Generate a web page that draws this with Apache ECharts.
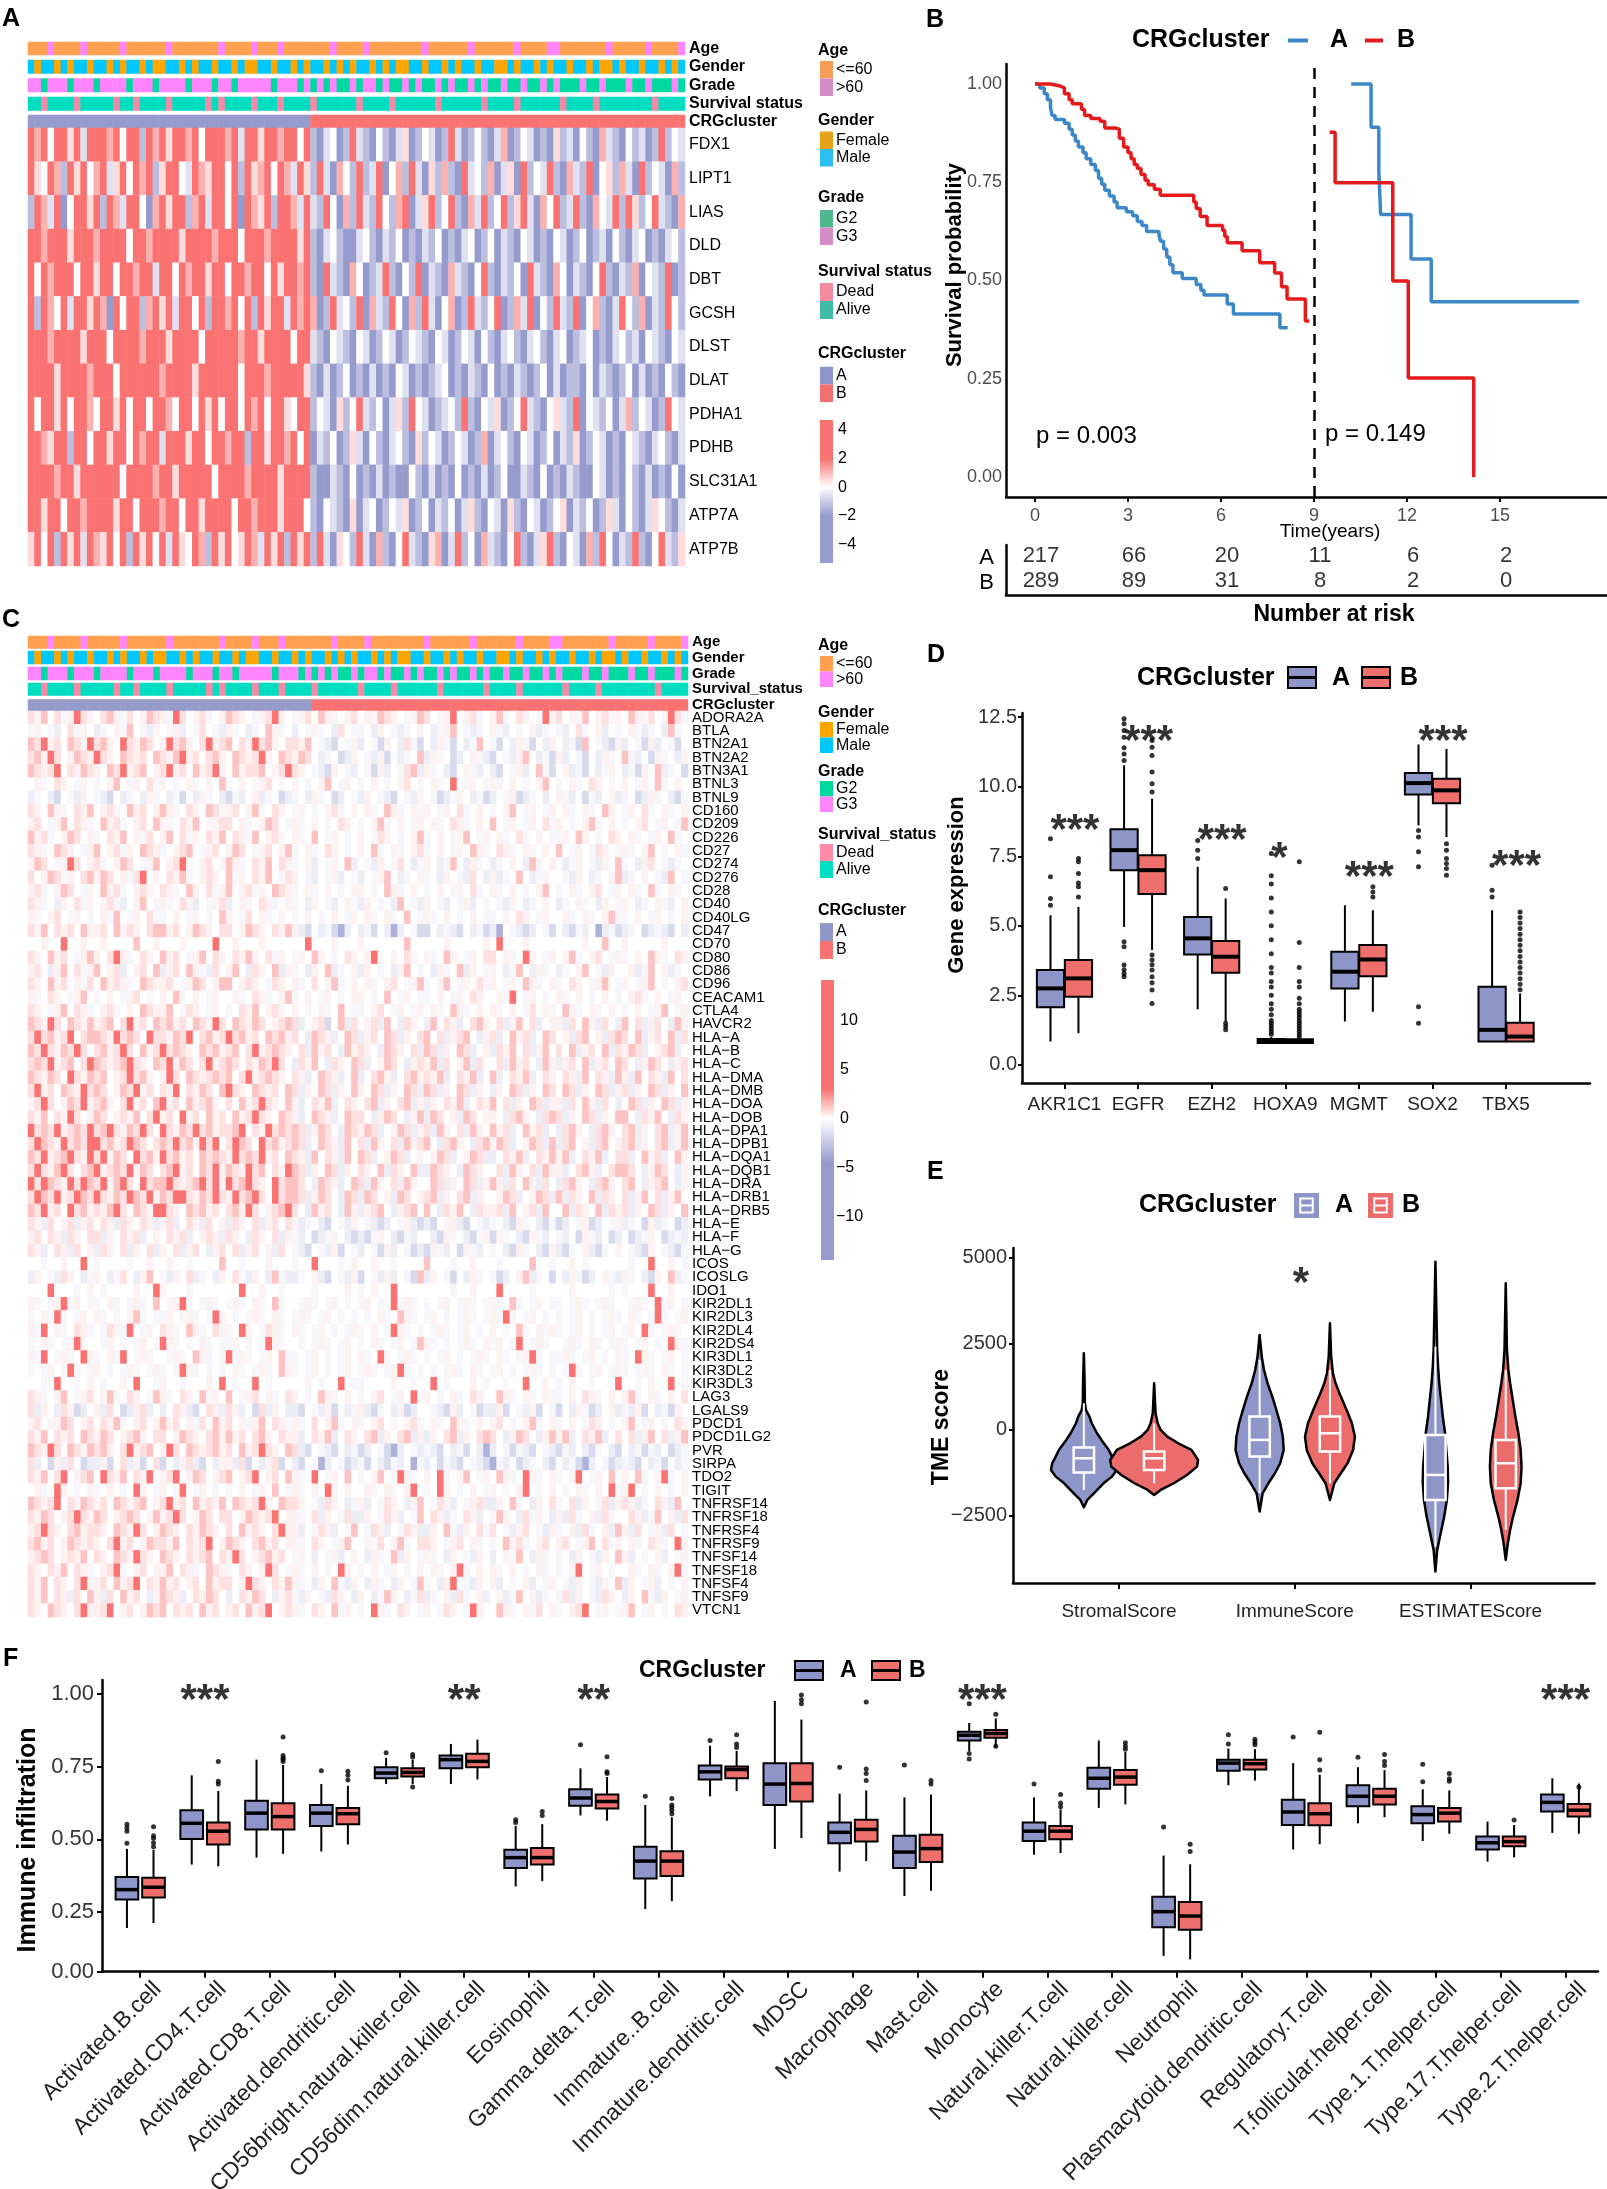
<!DOCTYPE html>
<html><head><meta charset="utf-8">
<script src="https://cdn.jsdelivr.net/npm/echarts/dist/echarts.min.js"></script>
<style>html,body{margin:0;padding:0;background:#fff}#c{width:1607px;height:2189px}</style>
</head><body><div id="c"></div>
<script>
// ===================== DATA =====================
const clusterSizes = [217, 289];          // CRGcluster A, B sample counts
const nCols = 100;                         // sample columns drawn (binned)
// annotation tracks (0/1 codes per column)
const annAge    = "0001000010 0000100000 0100000001 0000100010 0000001000 0100000000 1000000100 0000100001 1000000010 0000100001"; // 0:<=60 1:>60
const annGender = "1011010110 1101011010 0110101101 1010011011 0101101010 1101010011 0110101101 1001011010 1101101001 0110110101"; // 0:Female 1:Male
const annGrade  = "1101110111 0111101110 1111011101 1011111011 1010101001 0110100101 0010100101 0010010010 1000100100 0100100010"; // 0:G2 1:G3
const annSurv   = "1101111011 1110110111 1011111010 1111011101 1110111111 0111101111 1101111110 1111011111 1011110111 1111101111"; // 0:Dead 1:Alive

// Panel A heatmap: level codes per column (cluster A | cluster B)
const genesA = ['FDX1','LIPT1','LIAS','DLD','DBT','GCSH','DLST','DLAT','PDHA1','PDHB','SLC31A1','ATP7A','ATP7B'];
const levelA = {R:3, r:1.1, p:0.5, w:0, l:-0.6, b:-1.3, B:-3};
const heatA = [
"RrRwRRpRlR RRrRwRRbRr RpRRrRwRRR rRlRRpRRrR RwR|bBlwBbRlbB wbBlpBbwlB bRlBbwbBlr BbwlBbBpbl BwbBrlbBwb lBbRbwl",
"RpwRrbRpRw rRlpRwRrRb pRRwlRrpRR wRbRprRwRr lRp|bRlBrwbRbl RBwrbRlBpb rbBRlwbrBl pBRbwlRbBr lbRBwpbrlB RbwlBrb",
"bRrlRBwRRp RbRrlRRwBr RpRRbrRlRR wRBRrpRbRR rlR|lbRwBrbRlb RwbrRBlpRb wRbBrlRbwR bpRlBrwRbl RbBrwlRbRp bwRlbBr",
"RRrRRRpRRR rRRRRwRRrR RRRpRRRRrR RRwRRRrRRR RpR|bBlwbBBlwb BlbwBbBlbw BbBlwBbwBl bBwlBbBwlB bwBblBwbBl wBbBlwb",
"RwRrRRRwRR pRRwRRrRRl RRwRrRRpRR wRRrRRwRpR RrR|bBRlbBrwBb lRbBwbRBlb BrlbBwRbBl bwBRlbBrwB lbBwRbBlbr BwlbRBb",
"RbRrwRlRRp RrBRwRRbrR pRlRRwRbRR rRwRbRpRRl RrR|rBbRlwbRBr lbRwBrbRlB wrBbRlbwRB brlRBwbRlb RBwrbBlRwb rBlbRwb",
"RRRrRRRRpR RRwRRRRrRR RpRRRRwRRR RRrRRpRRRR wRR|lbBwlbBwlB bwlBbwlbBw lBbwlBwbBl wbBlwbBlwB blwBbBlwbl BwlbBwl",
"RRRRpRRRRr RRRwRRRRRR rRRRRpRRRR RRwRRRrRRR RRp|bBlBbwBbBl BbBwlBbBbl wBbBlbBwBb BlbBbwBlBb bBwBlbBbwB lBbBwbB",
"RwRRpRwRRr wRRpRwRRwR RrwRRwRpRw RRwRrRwRRp wRR|bwlBpbwRlb wBlpbRwlBb lwbRbBwlpB bwRlbBwplb RBwlbwBlrb wlBbRwl",
"RRrpRRbRRw RRpRRwRrRR lRRRpRRwRR rRRbRRpRRr RwR|BlbwBbplBw bBlwbBpbwl BbwlBbrBlw bBwlBbwBlb pBbwlBbBwl bBlwbBl",
"RRRRrRRpRR RRRRwRRRRr RRpRRRRRwR RRRrRRRRpR RRR|bBBlbBwBbB lBbBBwbBlB bBwBbBlBbw BBlbBwBbBl bBBwlBbBwb BlBbBwB",
"RRpRRwRRrR RRRpRRwRRR rRRwRRpRRR RwRRrRRRpR RRw|bBwlbBpBlw BbwlpBbwBl bwBlpbBwlB pbBwlBbwpB lbwBbplBwb BlpwbBl",
"pRwRbRpRlR rpRwRbRpRw RlRpwRrbRp RwpRrlRpRb RpR|bRlBpwbRlB rbBwRlbBpr BlRbwBrlbB wRbBlpRbBw lBrbRwBlbR bBwRlbp"
];

// Panel C heatmap (immune checkpoint genes)
const genesC = ['ADORA2A','BTLA','BTN2A1','BTN2A2','BTN3A1','BTNL3','BTNL9','CD160','CD209','CD226','CD27','CD274','CD276','CD28','CD40','CD40LG','CD47','CD70','CD80','CD86','CD96','CEACAM1','CTLA4','HAVCR2','HLA−A','HLA−B','HLA−C','HLA−DMA','HLA−DMB','HLA−DOA','HLA−DOB','HLA−DPA1','HLA−DPB1','HLA−DQA1','HLA−DQB1','HLA−DRA','HLA−DRB1','HLA−DRB5','HLA−E','HLA−F','HLA−G','ICOS','ICOSLG','IDO1','KIR2DL1','KIR2DL3','KIR2DL4','KIR2DS4','KIR3DL1','KIR3DL2','KIR3DL3','LAG3','LGALS9','PDCD1','PDCD1LG2','PVR','SIRPA','TDO2','TIGIT','TNFRSF14','TNFRSF18','TNFRSF4','TNFRSF9','TNFSF14','TNFSF18','TNFSF4','TNFSF9','VTCN1'];
const levelC = {R:3.2, r:1.3, p:0.65, q:0.3, w:0, o:-0.35, l:-0.8, b:-1.7, B:-3.5};
const heatC = [
"pqrwpoqRpq wprqopwqrp qoRpwqpowq rpqwoqpRqw oqpwrqowqp wqorpqwoqr pwoqRwqpow qrowpqwoRq pwqorwqpoq wrqopwqRpo",
"oqwolwpoqw lowqorwolq woqlwopwol qowlowrqow lwoqowlpwo owlqwolowq wloqrwolow qolwowqlow olwpowqlwo wqolowlrow",
"rpRqpwrpqR prqwRpqrpw qRprqwpRqp rwpqRprqwp pqrwolbwoq lwobqwlpob wlqobwlorw obwlqobwlq wlobrwolbq lwobqlwobw",
"prqRpwqrpq Rpqwrpqpwr pqrRqpwprq wrpqpRqwrp qrpwlowblq wolqbwlowr lqowblwqol bwolqrwlob qlwobwlqow rolwbqowlq",
"rpqpRwpqrp qwrpRqprwq pRqpwrqpRq wrqpprwqpR pqwolbqwol wobqlwoprl qowlbwqolw lbwoqlwrob wqlobwloqw lobqwrlowb",
"wqowpqwoqw owqrwoqwpo qwowqowqwr owqwoqpwow qwowqrwoqw owqwowqpwo wqowRwoqwo qowqwowqrw owqowpqwow qwoqwrowqw",
"lowlbwolqw olbwlowlqo wlobwlqowl bolwqlowbl owlqowblwo lqwolbwolq wobloqwlob lwoqblowlw qolwbolwql owblqowlbo",
"pqwrqowpqr wqpowrqpwq rqowpqwrpo qpwqrowpqw oqwowqpowq wqowrqowqo qwoqwpowqw owqrwoqwoq wqowqowrqw oqwpowqowq",
"qpwoqrwpqo wrqpowqpwr qowpqrwoqp pwqowqrpwo qowqwowpqw owqrowqwoq wqowpqowqw rwoqwoqwpo qwowqrowqw owqpwoqwor",
"rqpowqrpwq owpqrwqopw qrwpoqwpqr wpqorwqpow qowrwoqwow qwopqwowqr owqwoqrwoq wqowpowqwo oqwrqwowpq wqowoqwrow",
"pqowrpqwoq rwqpoqwrpq owqprwoqpw qrpwoqpwqr owqowpqwow qwrowqowqp owqwoqwrqo wpqowqowqw rwoqwopqwo qowqrwowqo",
"qrpwoqRpwq powqrpwoqr wqpRowqpwo rqowpqrwpq owqlwoqwrl wolqwopwlo qwlorwlqow lowqwlrowq wloqwolqwr owlqpwolow",
"pwqrpoqwpr qrpwqopRwq wpqrowqpqw roqwpqrwop qwolwoqlwo lwoqrwlowq owlqwolpwl qlowrwloqw wolqwlowqr lowqwolrwo",
"qpowqrpwoq wrqpowqpqw pqowrqwpoq rwqpoqwrpq owqowqwowq qwowrqowqw owqwoqwpow qowqwowqrw owqowqpwoq wqowrowqow",
"pqowlqwpoq wqpolwqrwo qowpqlwoqp lwqowpqowq owlqwolwqo lqwowlrwol qwolwoqlwo wolqwlowqw lowqowlqwo qwlowqolwq",
"qowqpwoqwo wqorwoqwpo owqwoqwowr qwopwqowqw owqwowqwoq wqowqowrwo qowqwowqwo owqwpqwoqw wqowqowqro owqwoqwowq",
"pqrwpqpwrq qpwrqpqwpr rqpwqrpqwp pwqrpqwpqr qlbwlobBlw lobwlBlwob bwlolbwlob lBwolblwob wlbolwBlob lowblolbwl",
"wwqwwRwwqw wqwwwwrwwq wwwqwwwwRw wqwwwqwwww wwRwwwqwww qwwwwwwrww wwwqwwwwwq wRwwwqwwww wwwwqwwrww qwwwwwqwww",
"pqwrqpwoqr qwpRqowpqw rqpwoqrwpq wpqrqwpoqw oqwrqwowpq wqRowqwpow qowrqwoqwp pwqowRqwoq wqrowqpwoq owqwrqowpq",
"qpwlqrwpoq rwqplwqpwr lqpwrqolpw qrwlpqwrlq owlqwrlowq lqwowlqrwo wlqowrlqwo qwlorwlqow lowqrwolqw wqlorwqlow",
"pqwrqpwqop wrqpqowrpq qpwoqrpwqr rwqpqwopqw qowpwqrowq wqowqpwoqr owqrwoqwpo qwoqwrqowq owpqwoqrwo qwoqrwowqp",
"qowpqwoqrw owqwoqpwow qwrowqwoqw wqowpqowqr owqwoqwowq qwowrwoqwo owqwoqwpqw wqoRwoqwow qowqwowqwo wqpowqwoqw",
"pqwoqrwpqo wqpowqwrpq qrwopqwoqw owpqrwqpow qwowqowrwo owqpwoqwoq wqowrqowqw qowqwopwqo wrqowqowqw owqwoqrwoq",
"rpqRpwrpqr qprwpRqpwr prqpwrpqRp wrpqrpwqpr plwqpbwrlp wqplrwlpqw lrwpqlwprq wplqrwplwq qlpwrqlpwl rwplqpwlrq",
"pRprqpRwpr rpqRprpwRp pqrpRwprqp Rprqpwrprq pwlrpqlwrp lqpwrplqwp rwplqprwlq plwrqplwrp wqlprwqlpr pwrlqpwrlp",
"rpRpqrpRpw prqpRpwrqp Rprpqwrprq prwpRqprpq wplrqpwlrq pqwlrpqwpl rplqwrplwq lpqrwplqrw pwrlqpwrlp qrplwqprlw",
"prpRqprwpR rpqprRpqwr pRqrpwpRqp rpwpqrpRpw lpqrwlpqwr plwqrpwlqp qrlpwqrlpw wplrqpwlrq lqpwrlqpwr pwlqrpwlqp",
"rpqrpwRpqr prwqpRprqw qRpwrpqprp rwpRqprpqw pqlwrpqlwr lwprqlwprq pqrlwpqrlw rlwpqrlwpq wpqlrwpqlr qlrwpqlrwp",
"pRqpwrpqRp rpwqrpRqpw pqRwpqrpwr Rpqwrpqpwr plqwrplqwr qwrplqwrpl rplqwrplqw lqwrplqwrp wrplqwrplq plqwrplqwr",
"qpRpwqrpRq prqwpRqpwr Rqpwrqprqw pwrqpRpqwr qlwpqrlwpq wprlqwprlq lqwpqrlwpq rwplqwrplq qlpwrqlpwl wrplqwrplq",
"pqrwpqRpwq rpwqpqrwpR qpwRqpwrqp wrqpRpqwrp qlwrpqlwrp pwlqrpwlqr lrpwqlrpwq qwlprqwlpr plqwrplqwr rwlpqrwlpq",
"RprpRqprpR prRpqrpRpw RpqrpRprqp prRwpqRprp rplqrpwlrp qrplwqrplq plrqwplrqw rqplwrqplw lprqwlprqw prlqwprlqr",
"pRrpqRprpR RprqpRrpwp rpRprqRpRw pRrpwRprqp rplwrpqlrw plrqwplrqp rwlprqwlpr qrplwqrplr lprwqlprwq prlqwprlqr",
"rpRqprRpqR pRqrpwRprq Rprqpwrprp qRprpRqpwr pqlrwpqlrw rplwqrplwq wqrplwqrpl lwpqrlwpqr qrlwpqrlwp plwrqplwrq",
"pRpqrRpwpr RqprpRqrpw prRqpwrpRq rpqRprwpqR rplqwrplqw pqwrlpqwrl lrpqwlrpqw wplrqwplrq qlwprqlwpr rpwlqrpwlq",
"RpRrpqRpRr pRqrRpwRpr rRpqprRpRq RprRpqwRpr rpwlrpqlwr plrqwplrqw wrplqwrplq rqlpwrqlpw lprqwlprqw prwlqprwlq",
"pRrpRqpRrp RpqrpRrpRq rpRRpqrpRp qRprRpwRpr rplqrpwlrp lrpwqlrpwq prlqwprlqw wqrplwqrpl rlpqwrlpqw plqrwplqrw",
"rpRqpwRprq pqrRpwrpqR Rpqwrprqpw prqRpwqprR pwlrqpwlrq lqprwlqprw rwlpqrwlpq qplrwqplrw wrlpqwrlpq plqwrplqwr",
"pqlpwqplqp wpqlpqwpql qplwpqlpwq lpqwplqpwp qlowlbwolq wolblwoqlb lbwoqlbwol owlbqowlbo blwoqblwoq lowbqlowbl",
"qpwpqlpqwp plqwpqplwq wpqplwqpql pqwlpqwplq olwbloqwlb lboqwlbolw wlbqowlboq bqowlbqolw olwbqolwbl wbloqwblol",
"pqlwpqlpwq lpqwplqwpl qwplqpwlqp wplqpwqlpw olbwolqbwo lwobqlwobl bqolwbqolw owlbqowlbq lbowqlbowq wolbqwolbo",
"wwowwqwwRw owwwwowwqw wqwwowwwwr wwowwwqwww owwRwwwowq wwqwwowwww rwwwowwqww wowwwwrwwo wwqwowwwww wowwRwwqwo",
"lqwolpqwlo qwlopwlqrw olqwplowlq wpolqwlrol lowqlbwolq bwolqlwobr lqwobwlqow oblwqrlowb wlqoblwqol qowlbqwrlo",
"wwwRwwwowq wowwwwqwwR qwwwowwwww wwRwwqwwow wwwowwwwqw owqwwRwwww wwwwowwqww wRwwwwowww wwqwwwwwow owwwRwwqww",
"qowoqRoqwo owqowoqowr woqRowoqow oqowqowrow woqowoqwow oqwowRoqow owoqwoqowo qowrowoqwo owoqowoqow woqowRoqwo",
"owqoRowoqw qowowqrowo oqwoqowoRq wowoqowqow oqowoqwowo wowqowrqow oqwowoqowo qoRowoqwow owoqwowoqo wqowoRowoq",
"qoRwqowpqo wopqoRwoqw pqowrqowpq owRqwopqow qowoqwowoq owqwoRqowo woqowoqwow qwowrowqoq owoqwowoqw oqwRowoqow",
"owqowoqRow woqwowoqwo Rqowowqowo oqwowoRqow wowoqowoqw owqowoqwor qowowoqowq oqwoRwoqow woqowqowoq owoqwowRqo",
"qoRwoqowRq owqoRwoqow woqowrqowo Roqowoqwro owoqwowoqw qowRowoqow owoqwowoqo wqowoqRowo oqowoqwowq owRqowoqwo",
"owoqwoRowo qwowoqowoq owoRqowowo wqowoqowrq owoqwowoqw oqowoqRowo wowoqowqow oqwowoqowo woRowoqwoq owoqowqowo",
"wwowRwwowq wowwqwRwwo qwwowwwqwR wowwRwowww wwqwowwRwo owwwwqwwow wRwowwwqwo wwowwRwwqw owqwwowwwR wwowqwwRwo",
"pqowqrwoqp wqrowpqwor qowpqwroqw rwoqpwqowp qwowrqowqw owqpwoqwRo qwowqowpqw wrqowqowqo owqwpqowqw qrowqowqwp",
"plqwlpqblw qlpwblqplw lwpqlbwpql pqlwbplqwl lbwolqbwlo qlbowlqblw wolbqlwobl lqbwolqbwo bwlqoblwql olqbwlobqw",
"qpwoqrpwqp wpqrowqpwq rqpwqopwrq pwqoqrwpqo qowpwqrowq owqpwowqpo wqowrqowqw qpwowqrowq owqwopqwow qrwoqwowpq",
"pqrwpqpwrp qrpwqprqwp pwqrpqwprq rqpwprqwpq qlwpqrlwpq wprlqwprlq lqwprlqwpr pwlqrpwlqr qrlwpqrlwp wplqrwplqr",
"rpqRpwrpqr prqwpRqprw qRpwrpqprq pwrqpRpqwr plbwolbwlo blwobBlwol olbwlobwlB lwobolbwol bolwlbowlb wlobolwblo",
"plwbqlpwbl lqbwplqbwp bwlqplbwlq qlpbwlqpbw lbwoBlwobl obwlbolwBo lwbolbwolb Bolwblowlb wlobBlwobl olbwlobwlo",
"pqrwpRwqpr wRpqrwpqRw qpRwqrpwqp rwqpRwqpwr qowRwoqwrw owqrwoRqow qwRowqrwoq wrqowRqowq owqRwoqwrw qwrowqRowq",
"wqowRqwowq owqwowRqwo qwoRwoqwow owqwoqwrwo qowqwRowqw wqowqowqRw owRqwowqwo qwowqRwowq wowqowqwRo qRwowqwowq",
"rpqpRwpqrp qpwrpqprwq pRqpwrqpqr wrpqpRqwrp pqwolpqwlo qlwopqwlqr wopqlwoqpl lqwrowlqwp owplqwoplq pqlowpqlrw",
"pqrpwqpRpq rpwqprpwqr qpRpwqrpwp pwqrpqpRwq qowplqwopl lqwopqlwor wpqlowpqlw orqwlpoqwl qlpowqlpow wpqlorwqlp",
"qpRpqwprqp pqwrpqRpwq rpqwpqrpqw pwrqpqwpRq qlwopqlwor wopqlwopql lqwrolqwpo pwolqpwolq owqlpowqlr qlpwoqlpwo",
"prqpwqrpqp qwpRqpwqrp pqrwpqpRwq rpqwprqpwq qowpqwoqrw wqopwqrowp pqwoqpwqow owrqpowqpw qpwoqrwpoq wqowpqowRq",
"qprpwqpqrw pqwrpqRpqw rpqwpqprwp qRpwqprqpw oqwlwoqlwq wlqowrlqwo qowlqwolqw lwqorwlqow owlqwolqwr qlwowqlwoq",
"pqwpqrwpqo wqpRowqpwq qrwpqowrpq owpqwqRpwo qowqwowRqw owqwoqwowq wqowqRowqw qowqwowqow owqRwoqwow wqowqowqRo",
"pqrwpqwpRq qpwrqpRwpq rqpwqpwrqp pwqRpqwpqr qowlqwrolq wlqowlqwor owlqRwolqw qlwowqlwoq wolqwolqwr lqwoqlwowq",
"pqrwpqlpwr qlpwrqpwlq rpqlwpqrpw lwpqrpwlqp olqwolpqwl qwlorqwlop lowqlpowql wqlorwqlow oplqwolpqw lqwrolqwoq",
"pqwrpqwpRq qpRwqpwqrp rwpqpwrqpw qpwrqpRwqp qowpqwroqw owRqowpqwo qwopqwoRqw wrqowqopwq owqpRwoqwo qrwoqwowpq"
];

// Panel B: Kaplan–Meier steps [time (years), survival]
const kmA1 = [[0,1],[0.15,0.99],[0.3,0.975],[0.4,0.96],[0.5,0.94],[0.55,0.92],[0.65,0.91],[0.95,0.9],[1.1,0.885],[1.2,0.87],[1.3,0.855],[1.4,0.84],[1.55,0.825],[1.65,0.81],[1.8,0.795],[1.95,0.78],[2.05,0.76],[2.15,0.745],[2.25,0.73],[2.4,0.715],[2.55,0.7],[2.65,0.685],[2.95,0.675],[3.15,0.665],[3.3,0.65],[3.45,0.64],[3.6,0.625],[4.0,0.615],[4.05,0.6],[4.15,0.58],[4.25,0.56],[4.35,0.54],[4.45,0.52],[4.75,0.505],[5.2,0.49],[5.35,0.475],[5.45,0.463],[6.2,0.44],[6.4,0.415],[7.9,0.38],[8.15,0.38]];
const kmB1 = [[0,1],[0.5,0.995],[0.8,0.99],[0.95,0.975],[1.1,0.96],[1.2,0.95],[1.5,0.935],[1.6,0.92],[1.8,0.912],[2.1,0.905],[2.25,0.888],[2.6,0.885],[2.72,0.862],[2.86,0.84],[3.0,0.825],[3.1,0.81],[3.2,0.795],[3.3,0.785],[3.42,0.77],[3.55,0.755],[3.65,0.744],[3.85,0.732],[4.04,0.717],[5.12,0.7],[5.2,0.683],[5.33,0.663],[5.55,0.64],[6.05,0.628],[6.12,0.612],[6.2,0.596],[6.68,0.576],[7.25,0.545],[7.73,0.519],[7.95,0.484],[8.13,0.453],[8.72,0.397],[8.85,0.397]];
const kmA2 = [[10.2,1],[10.84,0.89],[11.09,0.775],[11.15,0.668],[12.13,0.555],[12.78,0.446],[17.54,0.446]];
const kmB2 = [[9.5,0.877],[9.68,0.749],[11.54,0.499],[12.04,0.252],[14.15,0]];
const riskTimes = [0,3,6,9,12,15];
const riskA = [217,66,20,11,6,2];
const riskB = [289,89,31,8,2,0];
const pLeft = 'p = 0.003', pRight = 'p = 0.149';

// Panel D: [lowWhisker, Q1, median, Q3, highWhisker]
const dGenes = ['AKR1C1','EGFR','EZH2','HOXA9','MGMT','SOX2','TBX5'];
const dBoxA = [[0.84,2.07,2.75,3.41,5.38],[4.96,7.0,7.72,8.47,10.77],[2.0,3.97,4.55,5.32,7.12],[0.76,0.79,0.86,0.93,1.0],[1.56,2.75,3.35,4.07,5.74],[8.61,9.72,10.13,10.49,11.52],[0.84,0.84,1.26,2.81,5.56]];
const dBoxB = [[1.14,2.45,3.11,3.77,5.68],[4.13,6.14,7.0,7.54,9.57],[1.56,3.31,3.89,4.45,5.98],[0.76,0.79,0.85,0.92,0.98],[1.91,3.19,3.79,4.31,5.56],[8.19,9.41,9.87,10.29,11.36],[0.84,0.84,1.02,1.52,2.57]];
const dOutA = [[5.74,5.98,6.76,8.13],[4.43,4.25,3.59,3.42,3.29,3.17,10.94,11.18,11.4,11.78,12.02,12.26,12.44,12.68,12.86],[7.42,7.72,8.07],[1.1,1.2,1.3,1.4,1.5,1.6,1.8,2.0,2.2,2.5,2.8,3.0,3.3,3.5,4.0,4.5,5.0,5.5,6.0,6.5,6.8,7.6],[],[8.43,8.19,7.66,7.12,2.09,1.5],[6.04,6.28,7.18]];
const dOutB = [[6.04,6.4,6.54,6.88,7.3,7.42],[3.95,3.77,3.6,3.41,3.17,2.95,2.69,2.21,9.81,10.11,10.53,11.12,11.42,11.66],[6.34,1.5,1.38,1.26],[1.0,1.1,1.2,1.3,1.4,1.5,1.6,1.7,1.8,1.9,2.0,2.2,2.4,2.8,3.0,3.5,4.4,7.3],[6.04,6.22,6.4],[7.95,7.72,7.42,7.24,7.06,6.82],[2.7,2.9,3.1,3.3,3.5,3.7,3.9,4.1,4.3,4.5,4.7,4.9,5.1,5.3,5.5]];
const dSig = ['***','***','***','*','***','***','***'];
const dSigY = [8.8,12.0,8.43,7.78,7.08,12.0,7.48];

// Panel E: violin outlines [score, half-width], boxes [low,Q1,median,Q3,high]
const eScores = ['StromalScore','ImmuneScore','ESTIMATEScore'];
const eViolinA = [
 [[-2250,0],[-2035,0.02],[-1841,0.057],[-1550,0.112],[-1357,0.16],[-1163,0.187],[-969,0.18],[-775,0.16],[-581,0.142],[-290,0.1],[-97,0.075],[194,0.045],[388,0.032],[581,0.012],[775,0.006],[1500,0.004],[2230,0]],
 [[-2374,0],[-1841,0.017],[-1550,0.05],[-1260,0.087],[-969,0.117],[-581,0.137],[-194,0.132],[194,0.117],[581,0.095],[969,0.072],[1357,0.045],[1744,0.025],[2132,0.012],[2762,0]],
 [[-4118,0],[-3488,0.01],[-3004,0.03],[-2519,0.05],[-2035,0.065],[-1550,0.072],[-1066,0.07],[-581,0.062],[-97,0.055],[388,0.042],[872,0.032],[1357,0.022],[1841,0.015],[2326,0.01],[4893,0]]
];
const eViolinB = [
 [[-1890,0],[-1744,0.037],[-1550,0.112],[-1308,0.187],[-1066,0.244],[-872,0.25],[-581,0.212],[-388,0.137],[-194,0.075],[0,0.037],[194,0.02],[485,0.008],[800,0.005],[1357,0]],
 [[-2035,0],[-1550,0.025],[-1260,0.062],[-969,0.1],[-581,0.132],[-194,0.142],[194,0.125],[581,0.095],[969,0.062],[1357,0.032],[1647,0.017],[2132,0.007],[3100,0]],
 [[-3779,0],[-3295,0.012],[-2907,0.025],[-2519,0.042],[-2035,0.067],[-1550,0.085],[-1066,0.09],[-581,0.085],[-97,0.072],[388,0.055],[872,0.04],[1357,0.025],[1744,0.015],[2326,0.007],[4264,0]]
];
const eBoxA = [[-1744,-1240,-824,-514,775],[-1841,-775,-290,388,2035],[-3391,-2035,-1308,-145,2423]];
const eBoxB = [[-1550,-1163,-824,-630,194],[-1550,-630,-97,388,1744],[-2907,-1696,-969,-290,1744]];
const eSig = ['','*',''];
const eSigY = 4554;

// Panel F: immune infiltration boxes [low,Q1,median,Q3,high]
const fCells = ['Activated.B.cell','Activated.CD4.T.cell','Activated.CD8.T.cell','Activated.dendritic.cell','CD56bright.natural.killer.cell','CD56dim.natural.killer.cell','Eosinophil','Gamma.delta.T.cell','Immature..B.cell','Immature.dendritic.cell','MDSC','Macrophage','Mast.cell','Monocyte','Natural.killer.T.cell','Natural.killer.cell','Neutrophil','Plasmacytoid.dendritic.cell','Regulatory.T.cell','T.follicular.helper.cell','Type.1.T.helper.cell','Type.17.T.helper.cell','Type.2.T.helper.cell'];
const fBoxA = [[0.195,0.293,0.327,0.37,0.467],[0.413,0.501,0.555,0.6,0.72],[0.437,0.534,0.59,0.633,0.774],[0.458,0.546,0.59,0.618,0.69],[0.69,0.71,0.728,0.748,0.78],[0.69,0.744,0.774,0.788,0.828],[0.338,0.401,0.437,0.464,0.546],[0.582,0.615,0.642,0.672,0.744],[0.26,0.365,0.425,0.474,0.618],[0.648,0.706,0.732,0.754,0.822],[0.467,0.618,0.69,0.762,0.976],[0.389,0.486,0.524,0.558,0.657],[0.305,0.401,0.456,0.512,0.644],[0.804,0.84,0.858,0.87,0.9],[0.447,0.494,0.528,0.558,0.644],[0.608,0.674,0.71,0.746,0.84],[0.099,0.197,0.251,0.302,0.444],[0.686,0.736,0.762,0.774,0.812],[0.465,0.549,0.594,0.636,0.762],[0.555,0.614,0.648,0.686,0.748],[0.494,0.555,0.585,0.614,0.672],[0.423,0.465,0.488,0.51,0.561],[0.522,0.596,0.627,0.654,0.71]];
const fBoxB = [[0.212,0.3,0.335,0.368,0.464],[0.407,0.482,0.528,0.558,0.666],[0.45,0.534,0.578,0.624,0.756],[0.482,0.552,0.588,0.608,0.684],[0.69,0.716,0.73,0.744,0.774],[0.706,0.748,0.768,0.794,0.843],[0.356,0.413,0.437,0.47,0.552],[0.564,0.606,0.63,0.654,0.714],[0.287,0.374,0.425,0.459,0.576],[0.666,0.71,0.74,0.75,0.804],[0.504,0.63,0.692,0.762,0.912],[0.425,0.492,0.534,0.567,0.668],[0.323,0.422,0.468,0.516,0.654],[0.816,0.849,0.864,0.876,0.916],[0.453,0.5,0.528,0.546,0.603],[0.62,0.688,0.714,0.738,0.8],[0.087,0.189,0.236,0.284,0.414],[0.702,0.74,0.76,0.774,0.81],[0.483,0.548,0.588,0.624,0.722],[0.576,0.62,0.648,0.674,0.738],[0.519,0.561,0.59,0.608,0.668],[0.438,0.476,0.492,0.51,0.549],[0.519,0.578,0.6,0.621,0.692]];
const fOutA = [[0.486,0.528,0.54,0.552],[],[],[0.736],[0.798],[],[0.558,0.567],[0.825],[0.648],[0.84],[],[0.748],[0.756],[0.776,0.795,0.966],[0.69],[],[0.542],[0.828,0.86],[0.852],[0.782],[0.698,0.758],[],[]];
const fOutB = [[0.474,0.488,0.504,0.512,0.543],[0.69,0.7,0.768],[0.768,0.775,0.78,0.788,0.852],[0.704,0.72,0.734],[0.68,0.783,0.792],[],[0.582,0.596],[0.726,0.732,0.784],[0.588,0.6,0.61,0.618,0.64],[0.816,0.828,0.86],[0.966,0.98,0.996],[0.702,0.726,0.742,0.972],[0.69,0.702],[0.82,0.93],[0.612,0.625,0.654],[0.81,0.82,0.832],[0.458,0.483],[0.825,0.835,0.844],[0.738,0.774,0.868],[0.754,0.768,0.792],[0.7,0.708,0.726],[0.566],[0.68]];
const fSigIdx = [1,5,7,13,22];
const fSigTxt = ['***','**','**','***','***'];
const fSigY = 1.011;

// ===================== STYLE / BUILD =====================
const FONT = "'Liberation Sans', Arial, Helvetica, sans-serif";
const RED = '#FA7272', BLUE = '#969BCD';
const KM_A = '#3C87C7', KM_B = '#E41A1C';
const BOX_A = '#8E96C9', BOX_B = '#EE6F6C', VIO_B = '#EC6B6B';
const barCol = {age:['#FF9F50','#FF85FF'], gender:['#FFA500','#00C8FF'], grade:['#00D9A0','#FF85FF'], surv:['#F48AA6','#00DDC0'], crg:['#959BCB','#FA7272']};
const legAcol = {age:['#F79D58','#D68BC6'], gender:['#E6A219','#2BBEEE'], grade:['#4FB98E','#D68BC6'], surv:['#F08BA0','#40BCA6'], crg:['#8E96C9','#F27070']};
const legCcol = {age:['#FF9F50','#FF85FF'], gender:['#FFA500','#00C8FF'], grade:['#00D89F','#FF85FF'], surv:['#FF8BA8','#00DDBF'], crg:['#9097C8','#FA7272']};

const grids=[], xAxes=[], yAxes=[], series=[], graphics=[], visualMaps=[];
const colIdx = Array.from({length:nCols},(_,i)=>i);
const nA = Math.round(nCols*clusterSizes[0]/(clusterSizes[0]+clusterSizes[1]));
const crgCodes = colIdx.map(i=> i<nA?0:1);
const codes = s => s.replace(/\s+/g,'').split('').map(Number);

function addGrid(g){ g.outerBoundsMode='none'; g.containLabel=false; grids.push(g); return grids.length-1; }
function addSeries(s){ series.push(s); return series.length-1; }
function heatGrid(left, top, width, height, cats, lab){
  const g = addGrid({left, top, width, height});
  xAxes.push({gridIndex:g, type:'category', data:colIdx, show:false});
  yAxes.push({gridIndex:g, type:'category', data:cats, inverse:true, position:'right',
    axisLine:{show:false}, axisTick:{show:false}, splitLine:{show:false},
    axisLabel:Object.assign({margin:4, interval:0, color:'#000', fontFamily:FONT}, lab)});
  return g;
}
function heatData(rows, lv){
  const out=[];
  rows.forEach((r,gi)=>{ r.replace(/[\s|]+/g,'').split('').forEach((ch,ci)=>{ if(ci<nCols && lv[ch]!==undefined) out.push([ci,gi,lv[ch]]); }); });
  return out;
}
function annBar(left, top, width, height, label, fs, cd){
  const g = heatGrid(left, top, width, height, [label], {fontSize:fs, fontWeight:'bold'});
  return addSeries({type:'heatmap', xAxisIndex:g, yAxisIndex:g, data:cd.map((c,i)=>[i,0,c]), progressive:0, silent:true, itemStyle:{borderWidth:0}});
}
function T(x,y,text,size,o){ o=o||{};
  graphics.push({type:'text', x, y, rotation:o.rot||0, silent:true, z:50,
    style:{text, fontSize:size, fontFamily:FONT, fontWeight:o.bold?'bold':'normal', fill:o.color||'#000',
      align:o.align||'left', verticalAlign:o.va||'middle', textAlign:o.align||'left', textVerticalAlign:o.va||'middle'}}); }
function R(x,y,w,h,fill,o){ o=o||{}; graphics.push({type:'rect', silent:true, z:50, shape:{x,y,width:w,height:h}, style:{fill, stroke:o.stroke||null, lineWidth:o.lw||0}}); }
function L(x1,y1,x2,y2,stroke,lw){ graphics.push({type:'line', silent:true, z:50, shape:{x1,y1,x2,y2}, style:{stroke, lineWidth:lw}}); }

// ---------- Panel A ----------
const sAgeA = annBar(28,42,657,13,'Age',16,codes(annAge));
const sGenA = annBar(28,60,657,13.5,'Gender',16,codes(annGender));
const sGrdA = annBar(28,78.5,657,13.5,'Grade',16,codes(annGrade));
const sSurA = annBar(28,97,657,13.5,'Survival status',16,codes(annSurv));
const sCrgA = annBar(28,115,657,13,'CRGcluster',16,crgCodes);
const gHA = heatGrid(28,128,657,438,genesA,{fontSize:16});
const sHA = addSeries({type:'heatmap', xAxisIndex:gHA, yAxisIndex:gHA, data:heatData(heatA,levelA), progressive:0, silent:true, itemStyle:{borderWidth:0}});

// ---------- Panel C ----------
const sAgeC = annBar(28,636,660,12.5,'Age',15,codes(annAge));
const sGenC = annBar(28,651,660,13,'Gender',15,codes(annGender));
const sGrdC = annBar(28,667,660,13,'Grade',15,codes(annGrade));
const sSurC = annBar(28,683,660,12.5,'Survival_status',15,codes(annSurv));
const sCrgC = annBar(28,699.5,660,11.5,'CRGcluster',15,crgCodes);
const gHC = heatGrid(28,711,660,906,genesC,{fontSize:15});
const sHC = addSeries({type:'heatmap', xAxisIndex:gHC, yAxisIndex:gHC, data:heatData(heatC,levelC), progressive:0, silent:true, itemStyle:{borderWidth:0}});

function hex2rgb(h){ return [parseInt(h.substr(1,2),16),parseInt(h.substr(3,2),16),parseInt(h.substr(5,2),16)]; }
function mix(c1,c2,t){ const a=hex2rgb(c1), b=hex2rgb(c2); return 'rgb('+a.map((v,i)=>Math.round(v+(b[i]-v)*t)).join(',')+')'; }
function colC(v){ return v>=0 ? mix('#FFFFFF',RED,Math.min(v/3,1)) : mix('#FFFFFF',BLUE,Math.min(-v/4.5,1)); }
const stopsC=[]; for(let v=-14; v<=14; v++) stopsC.push(colC(v));

visualMaps.push({type:'continuous', show:false, seriesIndex:[sHA], min:-4, max:4, inRange:{color:[BLUE,BLUE,'#FFFFFF',RED,RED]}});
visualMaps.push({type:'continuous', show:false, seriesIndex:[sHC], min:-14, max:14, inRange:{color:stopsC}});
[['age',sAgeA,sAgeC],['gender',sGenA,sGenC],['grade',sGrdA,sGrdC],['surv',sSurA,sSurC],['crg',sCrgA,sCrgC]].forEach(a=>{
  visualMaps.push({type:'piecewise', show:false, seriesIndex:[a[1],a[2]], pieces:[{value:0,color:barCol[a[0]][0]},{value:1,color:barCol[a[0]][1]}]});
});

// legends for A and C
function legBlock(titleY, title, labels, cols, top, h, fsT, fsI){
  T(818, titleY, title, fsT, {bold:true});
  labels.forEach((lb,i)=>{ R(820, top+i*h, 13, h, cols[i]); T(836, top+i*h+h/2, lb, fsI); });
}
legBlock(51,'Age',['<=60','>60'],legAcol.age,61,17.5,16,16);
legBlock(121,'Gender',['Female','Male'],legAcol.gender,131.5,17.5,16,16);
legBlock(198,'Grade',['G2','G3'],legAcol.grade,210,17.5,16,16);
legBlock(271.5,'Survival status',['Dead','Alive'],legAcol.surv,283,18,16,16);
legBlock(353.7,'CRGcluster',['A','B'],legAcol.crg,366.7,17.7,16,16);
// colorbar A
(function(){ const top=420,bot=563,vt=4.7,vb=-5.3; const off=v=>(vt-v)/(vt-vb);
  graphics.push({type:'rect', silent:true, shape:{x:820,y:top,width:13,height:bot-top}, style:{fill:{type:'linear',x:0,y:0,x2:0,y2:1,colorStops:[{offset:0,color:RED},{offset:off(2),color:RED},{offset:off(0),color:'#FFFFFF'},{offset:off(-2),color:BLUE},{offset:1,color:BLUE}]}}});
  [[4,'4'],[2,'2'],[0,'0'],[-2,'−2'],[-4,'−4']].forEach(a=>T(838, top+off(a[0])*(bot-top), a[1], 16));
})();
legBlock(646,'Age',['<=60','>60'],legCcol.age,656,15.5,16,16);
legBlock(713,'Gender',['Female','Male'],legCcol.gender,722,15.5,16,16);
legBlock(772,'Grade',['G2','G3'],legCcol.grade,781,15.5,16,16);
legBlock(835,'Survival_status',['Dead','Alive'],legCcol.surv,844,17,16,16);
legBlock(911,'CRGcluster',['A','B'],legCcol.crg,923,18,16,16);
(function(){ const top=980,bot=1260,vt=14.1,vb=-14.4; const off=v=>(vt-v)/(vt-vb);
  const st=[{offset:0,color:RED},{offset:off(3),color:RED},{offset:off(1.5),color:colC(1.5)},{offset:off(0),color:'#FFFFFF'},{offset:off(-2),color:colC(-2)},{offset:off(-4.5),color:BLUE},{offset:1,color:BLUE}];
  graphics.push({type:'rect', silent:true, shape:{x:821,y:top,width:13,height:bot-top}, style:{fill:{type:'linear',x:0,y:0,x2:0,y2:1,colorStops:st}}});
  [[10,'10'],[5,'5'],[0,'0'],[-5,'−5'],[-10,'−10']].forEach(a=>T(a[0]<0?836:840, top+off(a[0])*(bot-top), a[1], 16));
})();

// ---------- Panel B ----------
const AX = {color:'#000', width:2.5};
const gB = addGrid({left:1006, top:64, width:601, height:433});
xAxes.push({gridIndex:gB, type:'value', min:-0.935, max:18.45, splitLine:{show:false},
  axisLine:{show:true, onZero:false, lineStyle:AX}, axisTick:{show:true, customValues:riskTimes, length:5, lineStyle:{color:'#000',width:2}},
  axisLabel:{customValues:riskTimes, fontSize:18, color:'#4D4D4D', margin:10, fontFamily:FONT}});
yAxes.push({gridIndex:gB, type:'value', min:-0.051, max:1.051, splitLine:{show:false},
  axisLine:{show:true, onZero:false, lineStyle:AX}, axisTick:{show:false},
  axisLabel:{customValues:[0,0.25,0.5,0.75,1], formatter:v=>v.toFixed(2), fontSize:18, color:'#4D4D4D', margin:4, fontFamily:FONT}});
function km(data,color,extra){ return Object.assign({type:'line', xAxisIndex:gB, yAxisIndex:gB, data, step:'end', showSymbol:false, symbol:'none', silent:true, lineStyle:{color, width:3.5}, itemStyle:{color}}, extra||{}); }
addSeries(km(kmA1,KM_A,{markLine:{silent:true, symbol:['none','none'], label:{show:false}, lineStyle:{type:[11,8], color:'#000', width:2.5}, data:[{xAxis:9}]}}));
addSeries(km(kmB1,KM_B));
addSeries(km(kmA2,KM_A));
addSeries(km(kmB2,KM_B));
// risk table
const gR = addGrid({left:1006, top:545, width:601, height:50});
xAxes.push({gridIndex:gR, type:'value', min:-0.935, max:18.45, splitLine:{show:false}, axisLine:{show:true, onZero:false, lineStyle:AX}, axisTick:{show:false}, axisLabel:{show:false}});
yAxes.push({gridIndex:gR, type:'category', data:['A','B'], inverse:true, splitLine:{show:false}, axisLine:{show:true, onZero:false, lineStyle:AX}, axisTick:{show:false}, axisLabel:{interval:0, fontSize:22, color:'#000', margin:12, fontFamily:FONT}});
[['A',riskA],['B',riskB]].forEach(r=>{
  addSeries({type:'scatter', xAxisIndex:gR, yAxisIndex:gR, symbolSize:0.1, itemStyle:{color:'rgba(0,0,0,0)'}, silent:true,
    data:riskTimes.map((t,i)=>[t,r[0],r[1][i]]),
    label:{show:true, position:'inside', formatter:p=>String(p.value[2]), fontSize:22, color:'#000', fontFamily:FONT, offset:[6,-2]}});
});
T(1132,40,'CRGcluster',25,{bold:true});
L(1288,40.5,1308,40.5,KM_A,4); T(1330,40,'A',25,{bold:true});
L(1365,40.5,1383,40.5,KM_B,4); T(1397,40,'B',25,{bold:true});
T(955,265,'Survival probability',22,{bold:true, rot:Math.PI/2, align:'center'});
T(1036,436,pLeft,24); T(1325,434,pRight,24);
T(1330,532,'Time(years)',19,{align:'center'});
T(1334,615,'Number at risk',23,{bold:true, align:'center'});

// ---------- box helpers ----------
function boxRender(width, fill, lw, medW){
  return function(params, api){
    const x=api.value(0), lo=api.value(1), q1=api.value(2), md=api.value(3), q3=api.value(4), hi=api.value(5);
    const pLo=api.coord([x,lo]), pQ1=api.coord([x,q1]), pMd=api.coord([x,md]), pQ3=api.coord([x,q3]), pHi=api.coord([x,hi]);
    const hw=api.size([width,0])[0]/2;
    return {type:'group', children:[
      {type:'line', shape:{x1:pLo[0],y1:pLo[1],x2:pQ1[0],y2:pQ1[1]}, style:{stroke:'#000', lineWidth:lw}},
      {type:'line', shape:{x1:pQ3[0],y1:pQ3[1],x2:pHi[0],y2:pHi[1]}, style:{stroke:'#000', lineWidth:lw}},
      {type:'rect', shape:{x:pQ1[0]-hw, y:pQ3[1], width:2*hw, height:Math.max(pQ1[1]-pQ3[1],0.5)}, style:{fill, stroke:'#000', lineWidth:lw}},
      {type:'line', shape:{x1:pMd[0]-hw,y1:pMd[1],x2:pMd[0]+hw,y2:pMd[1]}, style:{stroke:'#000', lineWidth:medW}}
    ]};
  };
}
function boxSeries(g, boxes, off, width, fill, lw, medW){
  return {type:'custom', xAxisIndex:g, yAxisIndex:g, silent:true, renderItem:boxRender(width,fill,lw,medW),
    encode:{x:0, y:[1,2,3,4,5]}, data:boxes.map((b,i)=>[i+off].concat(b))};
}
function outSeries(g, outs, off, size){
  const d=[]; outs.forEach((arr,i)=>arr.forEach(v=>d.push([i+off,v])));
  return {type:'scatter', xAxisIndex:g, yAxisIndex:g, silent:true, symbolSize:size, itemStyle:{color:'#000'}, data:d};
}
function legendBoxes(tx, ty, fs, ax, bx, bw, top, h, lax, lbx, violin){
  T(tx, ty, 'CRGcluster', fs, {bold:true});
  [[ax,BOX_A,lax,'A'],[bx,violin?VIO_B:BOX_B,lbx,'B']].forEach(a=>{
    if(violin){
      R(a[0], top, bw, h, a[1]);
      R(a[0]+bw*0.25, top+h*0.22, bw*0.5, h*0.56, a[1], {stroke:'#fff', lw:2});
      L(a[0]+bw*0.25, top+h/2, a[0]+bw*0.75, top+h/2, '#fff', 2);
    } else {
      R(a[0], top, bw, h, a[1], {stroke:'#000', lw:2});
      L(a[0], top+h/2, a[0]+bw, top+h/2, '#000', 3);
    }
    T(a[2], ty, a[3], fs, {bold:true});
  });
}
function valueX(g, min, max, names, fs, margin, rotate, shift){
  const cv = names.map((_,i)=>i), sh = shift||0;
  xAxes.push({gridIndex:g, type:'value', min, max, splitLine:{show:false},
    axisLine:{show:true, onZero:false, lineStyle:AX}, axisTick:{show:true, customValues:cv, length:6, lineStyle:{color:'#000',width:2}},
    axisLabel:{customValues:cv.map(i=>i+sh), formatter:v=>names[Math.round(v-sh)]||'', fontSize:fs, color:'#222', margin, rotate:rotate||0, fontFamily:FONT}});
}
const SIG = {show:true, position:[0,0], verticalAlign:'middle', offset:[0,11], fontSize:42, fontWeight:'bold', color:'#000', fontFamily:FONT};

// ---------- Panel D ----------
const gD = addGrid({left:1022, top:713, width:568, height:370});
valueX(gD, -0.577, 7.14, dGenes, 19, 12);
yAxes.push({gridIndex:gD, type:'value', min:-0.65, max:12.65, splitLine:{show:false},
  axisLine:{show:true, onZero:false, lineStyle:AX}, axisTick:{show:true, customValues:[0,2.5,5,7.5,10,12.5], length:4, lineStyle:{color:'#000',width:2}},
  axisLabel:{customValues:[0,2.5,5,7.5,10,12.5], formatter:v=>v.toFixed(1), fontSize:20, color:'#333', margin:5, fontFamily:FONT}});
addSeries(boxSeries(gD, dBoxA, -0.19, 0.37, BOX_A, 2, 4));
addSeries(boxSeries(gD, dBoxB, 0.19, 0.37, BOX_B, 2, 4));
addSeries(outSeries(gD, dOutA, -0.19, 5));
addSeries(outSeries(gD, dOutB, 0.19, 5));
addSeries({type:'scatter', xAxisIndex:gD, yAxisIndex:gD, silent:true, symbolSize:0.1, itemStyle:{color:'rgba(0,0,0,0)'},
  data:dSig.map((s,i)=>({value:[i-0.19,dSigY[i]], label:{formatter:s}})),
  label:Object.assign({}, SIG, {align:'left'})});
legendBoxes(1137, 678, 25, 1288, 1362, 28, 667, 21, 1332, 1400, false);
T(957,885,'Gene expression',22,{bold:true, rot:Math.PI/2, align:'center'});

// ---------- Panel E ----------
const gE = addGrid({left:1013, top:1248, width:581.5, height:335});
valueX(gE, -0.603, 2.705, eScores, 19, 19);
yAxes.push({gridIndex:gE, type:'value', min:-4450, max:5290, splitLine:{show:false},
  axisLine:{show:true, onZero:false, lineStyle:AX}, axisTick:{show:true, customValues:[-2500,0,2500,5000], length:4, lineStyle:{color:'#000',width:2}},
  axisLabel:{customValues:[-2500,0,2500,5000], formatter:v=> v<0?'−'+Math.abs(v):String(v), fontSize:20, color:'#333', margin:6, fontFamily:FONT}});
function violinRender(shapes, boxes, fill){
  return function(params, api){
    const i=params.dataIndex, xc=api.value(0), sh=shapes[i], b=boxes[i], pts=[];
    for(let k=0;k<sh.length;k++) pts.push(api.coord([xc+sh[k][1], sh[k][0]]));
    for(let k=sh.length-1;k>=0;k--) pts.push(api.coord([xc-sh[k][1], sh[k][0]]));
    const bw=0.058;
    const pL=api.coord([xc-bw,b[1]]), pR=api.coord([xc+bw,b[3]]);
    const pLo=api.coord([xc,b[0]]), pQ1=api.coord([xc,b[1]]), pMd=api.coord([xc,b[2]]), pQ3=api.coord([xc,b[3]]), pHi=api.coord([xc,b[4]]);
    return {type:'group', children:[
      {type:'polygon', shape:{points:pts}, style:{fill, stroke:'#000', lineWidth:2.5, lineJoin:'round'}},
      {type:'line', shape:{x1:pLo[0],y1:pLo[1],x2:pQ1[0],y2:pQ1[1]}, style:{stroke:'#fff', lineWidth:2}},
      {type:'line', shape:{x1:pQ3[0],y1:pQ3[1],x2:pHi[0],y2:pHi[1]}, style:{stroke:'#fff', lineWidth:2}},
      {type:'rect', shape:{x:pL[0], y:pR[1], width:pR[0]-pL[0], height:pL[1]-pR[1]}, style:{fill, stroke:'#fff', lineWidth:2.5}},
      {type:'line', shape:{x1:pL[0],y1:pMd[1],x2:pR[0],y2:pMd[1]}, style:{stroke:'#fff', lineWidth:2.5}}
    ]};
  };
}
addSeries({type:'custom', xAxisIndex:gE, yAxisIndex:gE, silent:true, renderItem:violinRender(eViolinA,eBoxA,BOX_A), encode:{x:0,y:1}, data:eBoxA.map((b,i)=>[i-0.2,b[2]])});
addSeries({type:'custom', xAxisIndex:gE, yAxisIndex:gE, silent:true, renderItem:violinRender(eViolinB,eBoxB,VIO_B), encode:{x:0,y:1}, data:eBoxB.map((b,i)=>[i+0.2,b[2]])});
addSeries({type:'scatter', xAxisIndex:gE, yAxisIndex:gE, silent:true, symbolSize:0.1, itemStyle:{color:'rgba(0,0,0,0)'},
  data:eSig.map((s,i)=>({value:[i+0.035,eSigY], label:{formatter:s}})),
  label:Object.assign({}, SIG, {align:'center'})});
legendBoxes(1139, 1205, 25, 1294, 1368, 25, 1193, 25, 1335, 1402, true);
T(942,1427,'TME score',23,{bold:true, rot:Math.PI/2, align:'center'});

// ---------- Panel F ----------
const gF = addGrid({left:102, top:1680, width:1496, height:291.7});
valueX(gF, -0.59, 22.5, fCells, 23, 14, 45, 0.27);
const fYmin = 0.0445;
yAxes.push({gridIndex:gF, type:'value', min:fYmin, max:1.048, splitLine:{show:false},
  axisLine:{show:true, onZero:false, lineStyle:AX}, axisTick:{show:true, customValues:[fYmin,0.25,0.5,0.75,1], length:5, lineStyle:{color:'#000',width:2}},
  axisLabel:{customValues:[fYmin,0.25,0.5,0.75,1], formatter:v=> v<0.1?'0.00':v.toFixed(2), fontSize:22, color:'#333', margin:8, fontFamily:FONT}});
addSeries(boxSeries(gF, fBoxA, -0.205, 0.35, BOX_A, 2, 3.5));
addSeries(boxSeries(gF, fBoxB, 0.205, 0.35, BOX_B, 2, 3.5));
addSeries(outSeries(gF, fOutA, -0.205, 5));
addSeries(outSeries(gF, fOutB, 0.205, 5));
addSeries({type:'scatter', xAxisIndex:gF, yAxisIndex:gF, silent:true, symbolSize:0.1, itemStyle:{color:'rgba(0,0,0,0)'},
  data:fSigIdx.map((ix,k)=>({value:[ix,fSigY], label:{formatter:fSigTxt[k]}})),
  label:Object.assign({}, SIG, {align:'center'})});
legendBoxes(639, 1671, 23, 795, 872, 28, 1661, 19, 840, 909, false);
T(28,1840,'Immune infiltration',25,{bold:true, rot:Math.PI/2, align:'center'});

// panel letters
[['A',2,7],['B',926,8],['C',2,608],['D',927,643],['E',927,1160],['F',3,1647]].forEach(a=>T(a[1],a[2],a[0],25,{bold:true, va:'top'}));

const chart = echarts.init(document.getElementById('c'), null, {renderer:'canvas'});
chart.setOption({animation:false, backgroundColor:'#fff', textStyle:{fontFamily:FONT},
  grid:grids, xAxis:xAxes, yAxis:yAxes, series, visualMap:visualMaps, graphic:{elements:graphics}});
</script></body></html>
